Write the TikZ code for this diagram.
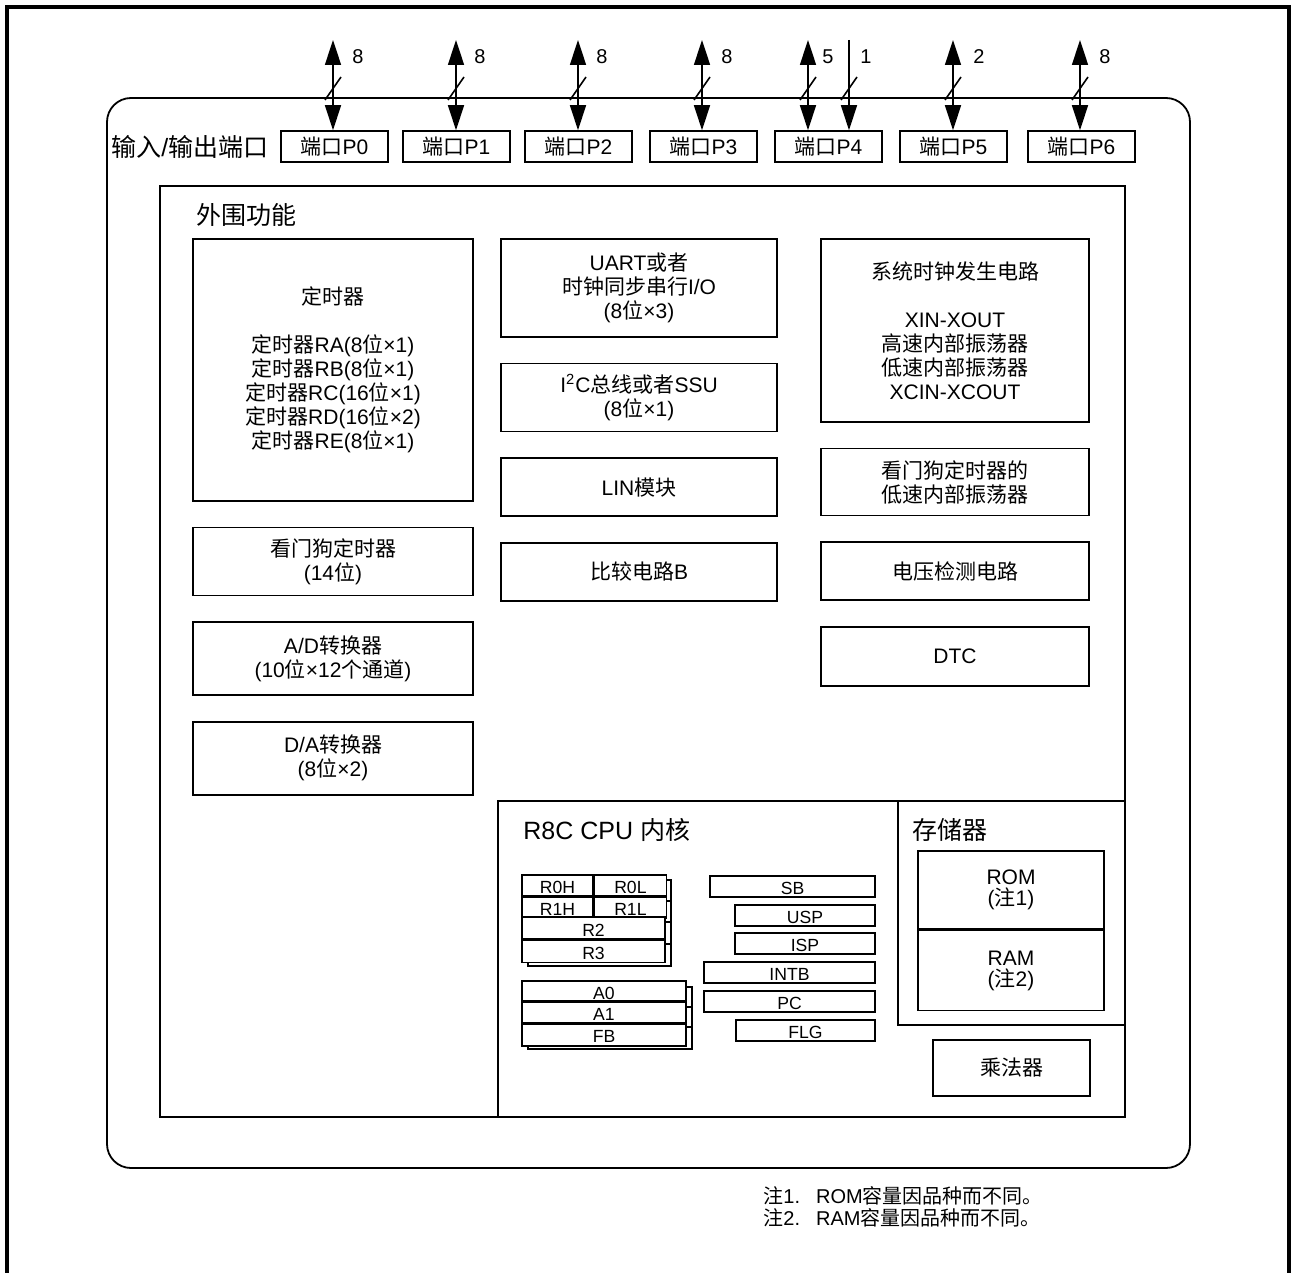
\documentclass[tikz,border=0pt]{standalone}
\usepackage{fontspec}
\setmainfont{Liberation Sans}
\newfontfamily\latinfont{Liberation Sans}
\newfontfamily\cjkfont{Noto Sans CJK SC}
\usetikzlibrary{arrows.meta,calc,positioning}

\newXeTeXintercharclass\cjkclass
\newcount\cjkchar
\cjkchar="4E00
\loop\XeTeXcharclass\cjkchar=\cjkclass\advance\cjkchar by 1 \ifnum\cjkchar<"A000 \repeat
\cjkchar="3000
\loop\XeTeXcharclass\cjkchar=\cjkclass\advance\cjkchar by 1 \ifnum\cjkchar<"3040 \repeat
\cjkchar="FF00
\loop\XeTeXcharclass\cjkchar=\cjkclass\advance\cjkchar by 1 \ifnum\cjkchar<"FFF0 \repeat
\XeTeXinterchartoks 0 \cjkclass = {\cjkfont}
\XeTeXinterchartoks 4095 \cjkclass = {\cjkfont}
\XeTeXinterchartoks \cjkclass 0 = {\latinfont}
\XeTeXinterchartoks \cjkclass 4095 = {\latinfont}
\XeTeXinterchartokenstate=1

\begin{document}
\begin{tikzpicture}[x=0.5pt, y=-0.5pt, node distance=12.5pt,
  block/.style={rectangle, draw, line width=0.8pt, align=center, inner sep=0pt, font=\fontsize{10.5}{12}\selectfont},
  port/.style={rectangle, draw, line width=0.8pt, minimum width=53.5pt, minimum height=15.5pt, inner sep=0pt, font=\fontsize{10.5}{12}\selectfont},
  reg/.style={rectangle, draw, line width=0.7pt, fill=white, inner sep=0pt, text height=8pt, text depth=0pt, font=\fontsize{8.8}{9}\selectfont},
  head/.style={anchor=west, inner sep=0pt, font=\fontsize{12.5}{15}\selectfont},
  num/.style={inner sep=0pt, font=\fontsize{10}{12}\selectfont},
  bus/.style={line width=0.8pt, {Triangle[length=12.5pt,width=8pt]}-{Triangle[length=12.5pt,width=8pt]}},
  busin/.style={line width=0.8pt, -{Triangle[length=12.5pt,width=8pt]}}]

\useasboundingbox (0,0) rectangle (1291,1273);
\draw[line width=2pt] (7,1290) -- (7,7) -- (1289,7) -- (1289,1290);
\draw[line width=0.9pt, rounded corners=12pt] (107,98) rectangle (1190,1168);

\node[head] (io) at (111,147) {输入/输出端口};
\node[port] (p0) at (334.5,146.5) {端口P0};
\node[port] (p1) at (456.5,146.5) {端口P1};
\node[port] (p2) at (578.5,146.5) {端口P2};
\node[port] (p3) at (703.5,146.5) {端口P3};
\node[port] (p4) at (828.5,146.5) {端口P4};
\node[port] (p5) at (953.5,146.5) {端口P5};
\node[port] (p6) at (1081.5,146.5) {端口P6};

\coordinate (u0) at (333,40);
\coordinate (u1) at (456,40);
\coordinate (u2) at (578,40);
\coordinate (u3) at (702,40);
\coordinate (u4) at (808,40);
\coordinate (u4b) at (849,40);
\coordinate (u5) at (953,40);
\coordinate (u6) at (1080,40);

\draw[bus] (u0) -- (u0 |- p0.north);
\draw[bus] (u1) -- (u1 |- p1.north);
\draw[bus] (u2) -- (u2 |- p2.north);
\draw[bus] (u3) -- (u3 |- p3.north);
\draw[bus] (u4) -- (u4 |- p4.north);
\draw[busin] (u4b) -- (u4b |- p4.north);
\draw[bus] (u5) -- (u5 |- p5.north);
\draw[bus] (u6) -- (u6 |- p6.north);

\draw[line width=0.8pt] ($(u0)+(-8,60)$) -- ($(u0)+(8,37)$);
\draw[line width=0.8pt] ($(u1)+(-8,60)$) -- ($(u1)+(8,37)$);
\draw[line width=0.8pt] ($(u2)+(-8,60)$) -- ($(u2)+(8,37)$);
\draw[line width=0.8pt] ($(u3)+(-8,60)$) -- ($(u3)+(8,37)$);
\draw[line width=0.8pt] ($(u4)+(-8,60)$) -- ($(u4)+(8,37)$);
\draw[line width=0.8pt] ($(u4b)+(-8,60)$) -- ($(u4b)+(8,37)$);
\draw[line width=0.8pt] ($(u5)+(-8,60)$) -- ($(u5)+(8,37)$);
\draw[line width=0.8pt] ($(u6)+(-8,60)$) -- ($(u6)+(8,37)$);

\node[num] (n0) at (358,57) {8};
\node[num] (n1) at (480,57) {8};
\node[num] (n2) at (602,57) {8};
\node[num] (n3) at (727,57) {8};
\node[num] (n4) at (828,57) {5};
\node[num] (n4b) at (866,57) {1};
\node[num] (n5) at (979,57) {2};
\node[num] (n6) at (1105,57) {8};

\draw[line width=0.8pt] (160,186) rectangle (1125,1117);
\node[head] (periph) at (196,215) {外围功能};

\node[block, minimum width=140pt, minimum height=131pt] (timer) at (333,370) {定时器\\[12pt]定时器RA(8位×1)\\定时器RB(8位×1)\\定时器RC(16位×1)\\定时器RD(16位×2)\\定时器RE(8位×1)};
\node[block, minimum width=140pt, minimum height=34pt, below=of timer] (wdt) {看门狗定时器\\(14位)};
\node[block, minimum width=140pt, minimum height=36.5pt, below=of wdt] (adc) {A/D转换器\\(10位×12个通道)};
\node[block, minimum width=140pt, minimum height=36.5pt, below=of adc] (dac) {D/A转换器\\(8位×2)};

\node[block, minimum width=138pt, minimum height=49pt] (uart) at (639,288) {UART或者\\时钟同步串行I/O\\(8位×3)};
\node[block, minimum width=138pt, minimum height=34pt, below=of uart] (iic) {I\textsuperscript{2}C总线或者SSU\\(8位×1)};
\node[block, minimum width=138pt, minimum height=29pt, below=of iic] (lin) {LIN模块};
\node[block, minimum width=138pt, minimum height=29pt, below=of lin] (cmp) {比较电路B};

\node[block, minimum width=134pt, minimum height=91.5pt] (clk) at (955,330.5) {系统时钟发生电路\\[12pt]XIN-XOUT\\高速内部振荡器\\低速内部振荡器\\XCIN-XCOUT};
\node[block, minimum width=134pt, minimum height=33.5pt, below=of clk] (wdtosc) {看门狗定时器的\\低速内部振荡器};
\node[block, minimum width=134pt, minimum height=29pt, below=of wdtosc] (lvd) {电压检测电路};
\node[block, minimum width=134pt, minimum height=29.5pt, below=of lvd] (dtc) {DTC};

\draw[line width=0.8pt] (498,1117) -- (498,801) -- (1125,801);
\draw[line width=0.8pt] (898,801) -- (898,1025) -- (1125,1025);
\node[head] (cpu) at (523,830) {R8C CPU 内核};
\node[head] (mem) at (912,830) {存储器};

\node[block, minimum width=93pt, minimum height=39pt, font=\fontsize{10.5}{10.5}\selectfont] (rom) at (1011,890) {ROM\\(注1)};
\node[block, minimum width=93pt, minimum height=40pt, font=\fontsize{10.5}{10.5}\selectfont, below=0pt of rom] (ram) {RAM\\(注2)};
\node[block, minimum width=78.5pt, minimum height=28pt] (mul) at (1011.5,1068) {乘法器};

\draw[line width=0.7pt, fill=white] (528,880) rectangle (671,966);
\draw[line width=0.7pt] (665,901) -- (671,901) (665,922) -- (671,922) (665,944) -- (671,944);
\node[reg, minimum width=35.5pt, minimum height=10.5pt] (r0h) at (557.5,885.5) {R0H};
\node[reg, minimum width=36pt, minimum height=10.5pt, right=0pt of r0h] (r0l) {R0L};
\node[reg, minimum width=35.5pt, minimum height=10.5pt, below=0pt of r0h] (r1h) {R1H};
\node[reg, minimum width=36pt, minimum height=10.5pt, right=0pt of r1h] (r1l) {R1L};
\node[reg, minimum width=71.5pt, minimum height=11pt] (r2) at (593.5,928) {R2};
\node[reg, minimum width=71.5pt, minimum height=11pt, below=0pt of r2] (r3) {R3};

\draw[line width=0.7pt, fill=white] (528,987) rectangle (692,1049);
\draw[line width=0.7pt] (686,1007) -- (692,1007) (686,1027) -- (692,1027);
\node[reg, minimum width=82pt, minimum height=10pt] (a0) at (604,991) {A0};
\node[reg, minimum width=82pt, minimum height=10pt, below=0pt of a0] (a1) {A1};
\node[reg, minimum width=82pt, minimum height=11pt, below=0pt of a1] (fb) {FB};

\node[reg, minimum width=82.5pt, minimum height=10.5pt] (sb) at (792.5,886.5) {SB};
\node[reg, minimum width=70pt, minimum height=10.5pt] (usp) at (805,915.5) {USP};
\node[reg, minimum width=70pt, minimum height=10.5pt] (isp) at (805,943.5) {ISP};
\node[reg, minimum width=85.5pt, minimum height=10.5pt] (intb) at (789.5,972.5) {INTB};
\node[reg, minimum width=85.5pt, minimum height=10.5pt] (pc) at (789.5,1001.5) {PC};
\node[reg, minimum width=69.5pt, minimum height=10.5pt] (flg) at (805.5,1030.5) {FLG};

\node[anchor=west, align=left, inner sep=0pt, font=\fontsize{10}{11}\selectfont] (notes) at (763,1207) {注1.\hspace{8pt}ROM容量因品种而不同。\\注2.\hspace{8pt}RAM容量因品种而不同。};

\end{tikzpicture}
\end{document}
